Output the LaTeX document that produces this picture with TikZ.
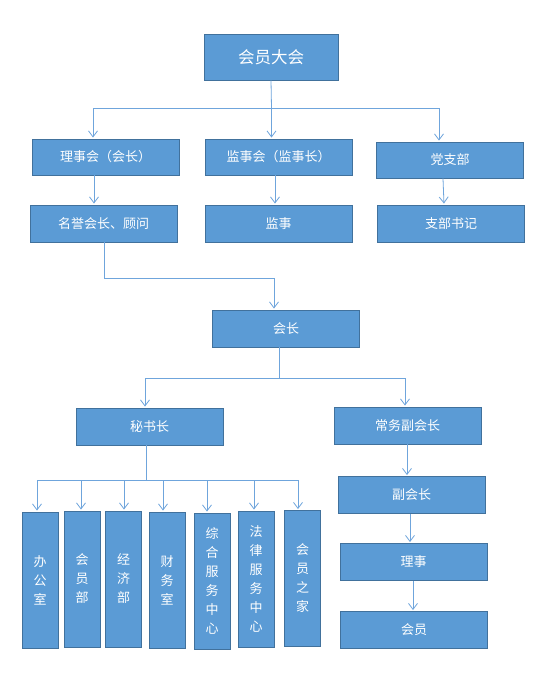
\documentclass[tikz,border=0pt]{standalone}
\usepackage{fontspec}
\setmainfont{Noto Sans CJK SC}
\usetikzlibrary{arrows.meta}
\definecolor{boxfill}{HTML}{5B9BD5}
\definecolor{boxline}{HTML}{41719C}
\definecolor{conn}{HTML}{6FA5DC}
\begin{document}
\begin{tikzpicture}[x=1pt,y=-1pt,
  box/.style={rectangle, draw=boxline, line width=0.9pt, fill=boxfill, text=white,
    font=\fontsize{13}{15}\selectfont, minimum width=147pt, minimum height=37pt, inner sep=0pt},
  vbox/.style={box, minimum width=36pt, minimum height=136pt, align=center,
    font=\fontsize{13}{19}\selectfont},
  ln/.style={draw=conn, line width=0.8pt},
  arr/.style={ln, -{Straight Barb[length=6pt,width=9pt]}, shorten >=1pt}]
\useasboundingbox (0,0) rectangle (554,690);
\fill[white] (0,0) rectangle (554,690);

% nodes
\node[box, minimum width=134pt, minimum height=46pt, font=\fontsize{16.5}{19}\selectfont] (top) at (271,57) {会员大会};
\node[box, minimum height=36pt] (lsh) at (105.5,157) {理事会（会长）};
\node[box, minimum height=36pt] (jsh) at (278.5,157) {监事会（监事长）};
\node[box, minimum height=36pt] (dzb) at (450,160) {党支部};
\node[box] (myz) at (103.5,223.5) {名誉会长、顾问};
\node[box] (js) at (278.5,223.5) {监事};
\node[box] (zbsj) at (451,223.5) {支部书记};
\node[box] (hz) at (286,328.5) {会长};
\node[box] (msz) at (149.5,426.5) {秘书长};
\node[box] (cwf) at (407.5,425.5) {常务副会长};
\node[box] (fhz) at (411.5,495) {副会长};
\node[box] (ls) at (413.5,562) {理事};
\node[box] (hy) at (414,630) {会员};

\node[vbox] (v1) at (40,580) {办\\公\\室};
\node[vbox] (v2) at (82,579) {会\\员\\部};
\node[vbox] (v3) at (123.5,579) {经\\济\\部};
\node[vbox] (v4) at (167,580) {财\\务\\室};
\node[vbox] (v5) at (212,581) {综\\合\\服\\务\\中\\心};
\node[vbox] (v6) at (256,579) {法\\律\\服\\务\\中\\心};
\node[vbox] (v7) at (302.5,578.5) {会\\员\\之\\家};

% junctions
\coordinate (j1) at (271.5,108);
\coordinate (j2) at (104,278);
\coordinate (j3) at (279,378);
\coordinate (j4) at (146,480);

% connectors
\draw[ln] (top.south) -- (j1);
\draw[arr] (j1) -| ([xshift=-12.5pt]lsh.north);
\draw[arr] (j1) -- ([xshift=-7pt]jsh.north);
\draw[arr] (j1) -| ([xshift=-11pt]dzb.north);

\draw[arr] ([xshift=-11.5pt]lsh.south) -- ([xshift=-9.5pt]myz.north);
\draw[arr] ([xshift=-3.5pt]jsh.south) -- ([xshift=-3.5pt]js.north);
\draw[arr] ([xshift=-7pt]dzb.south) -- ([xshift=-7pt]zbsj.north);

\draw[ln] (myz.south) ++(0.5,0) -- (j2);
\draw[arr] (j2) -| ([xshift=-12pt]hz.north);

\draw[ln] ([xshift=-7pt]hz.south) -- (j3);
\draw[arr] (j3) -| ([xshift=-4.5pt]msz.north);
\draw[arr] (j3) -| ([xshift=-2.5pt]cwf.north);

\draw[ln] ([xshift=-3.5pt]msz.south) -- (j4);
\draw[arr] (j4) -| ([xshift=-3pt]v1.north);
\draw[arr] (j4) -| ([xshift=-1pt]v2.north);
\draw[arr] (j4) -| ([xshift=0.5pt]v3.north);
\draw[arr] (j4) -| ([xshift=-4pt]v4.north);
\draw[arr] (j4) -| ([xshift=-5pt]v5.north);
\draw[arr] (j4) -| ([xshift=-2pt]v6.north);
\draw[arr] (j4) -| ([xshift=-4.5pt]v7.north);

\draw[arr] ([xshift=-0.5pt]cwf.south) -- ([xshift=-4.5pt]fhz.north);
\draw[arr] ([xshift=-1.5pt]fhz.south) -- ([xshift=-3.5pt]ls.north);
\draw[arr] ([xshift=-0.5pt]ls.south) -- ([xshift=-1pt]hy.north);
\end{tikzpicture}
\end{document}
